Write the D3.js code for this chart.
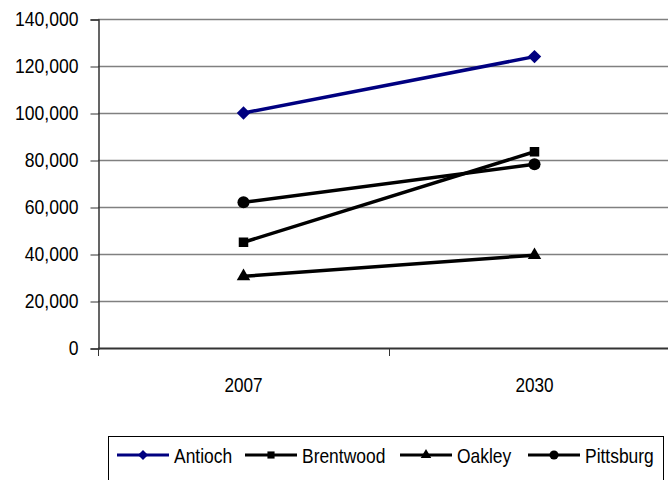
<!DOCTYPE html>
<html>
<head>
<meta charset="utf-8">
<script src="https://cdn.jsdelivr.net/npm/d3@7"></script>
<style>
  body { margin: 0; background: #fff; }
  text { font-family: "Liberation Sans", Arial, sans-serif; fill: #000; }
</style>
</head>
<body>
<svg id="chart"></svg>
<script>
var w = 668;
var h = 480;

var years = ["2007", "2030"];
var cities = ["Antioch", "Brentwood", "Oakley", "Pittsburg"];
var antioch = [100000, 124000];
var brentwood = [45000, 83500];
var oakley = [30500, 39500];
var pittsburg = [62000, 78200];
var yTicks = [0, 20000, 40000, 60000, 80000, 100000, 120000, 140000];

var series = [
  {name: cities[0], values: antioch, color: "#000080", symbol: d3.symbolDiamond2},
  {name: cities[1], values: brentwood, color: "#000", symbol: d3.symbolSquare2},
  {name: cities[2], values: oakley, color: "#000", symbol: d3.symbolTriangle2},
  {name: cities[3], values: pittsburg, color: "#000", symbol: d3.symbolCircle}
];

var svg = d3.select("#chart")
  .attr("width", w)
  .attr("height", h)

var plotLeft = 98, plotRight = 680, plotTop = 19, plotBottom = 348;

// squeeze glyphs to look like a narrow face
function narrow(sel, k) {
  sel.each(function() {
    var len = this.getComputedTextLength();
    d3.select(this).attr("textLength", len * k).attr("lengthAdjust", "spacingAndGlyphs")
  })
}

var x = d3.scalePoint()
  .domain(years)
  .range([plotLeft, plotRight])
  .padding(0.5)

var y = d3.scaleLinear()
  .domain([0, 140000])
  .range([plotBottom, plotTop])

// gridlines
svg.selectAll(".grid")
  .data(yTicks.slice(1))
  .enter()
  .append("line")
  .attr("class", "grid")
  .attr("x1", plotLeft)
  .attr("x2", w + 20)
  .attr("y1", function(d) { return y(d) + 0.5 })
  .attr("y2", function(d) { return y(d) + 0.5 })
  .attr("stroke", "#808080")
  .attr("stroke-width", 1.5)

// y axis
var yAxis = d3.axisLeft(y)
  .tickValues(yTicks)
  .tickFormat(d3.format(","))
  .tickSize(8)
  .tickPadding(12)

svg.append("g")
  .attr("transform", "translate(" + (plotLeft + 0.5) + ",0.5)")
  .call(yAxis)
  .call(function(g) {
    g.select(".domain").attr("stroke", "#333").attr("stroke-width", 1.5)
    g.selectAll(".tick line").attr("stroke", "#333")
    g.selectAll("text").attr("font-size", "19.5px").attr("font-family", null).attr("fill", "#000")
      .call(narrow, 0.9)
  })

// x axis: ticks at category boundaries
var step = x.step();
svg.append("line")
  .attr("x1", plotLeft).attr("x2", w + 20)
  .attr("y1", plotBottom + 0.5).attr("y2", plotBottom + 0.5)
  .attr("stroke", "#333").attr("stroke-width", 2)

svg.selectAll(".xtick")
  .data([0, 1, 2])
  .enter()
  .append("line")
  .attr("x1", function(d) { return plotLeft + d * step + 0.5 })
  .attr("x2", function(d) { return plotLeft + d * step + 0.5 })
  .attr("y1", plotBottom)
  .attr("y2", plotBottom + 8)
  .attr("stroke", "#333")

svg.selectAll(".xlabel")
  .data(years)
  .enter()
  .append("text")
  .attr("x", function(d) { return x(d) })
  .attr("y", 392)
  .attr("text-anchor", "middle")
  .attr("font-size", "19.5px")
  .text(function(d) { return d })
  .call(narrow, 0.88)

// lines
var line = d3.line()
  .x(function(d, i) { return x(years[i]) })
  .y(function(d) { return y(d) })

svg.selectAll(".series")
  .data(series)
  .enter()
  .append("path")
  .attr("d", function(d) { return line(d.values) })
  .attr("fill", "none")
  .attr("stroke", function(d) { return d.color })
  .attr("stroke-width", 3.5)

series.forEach(function(s) {
  svg.selectAll(null)
    .data(s.values)
    .enter()
    .append("path")
    .attr("transform", function(d, i) { return "translate(" + x(years[i]) + "," + y(d) + ")" })
    .attr("d", d3.symbol().type(s.symbol).size(s.symbol === d3.symbolTriangle2 ? 130 : 115))
    .attr("fill", s.color)
})

// legend
var legend = svg.append("g")

legend.append("rect")
  .attr("x", 108.5)
  .attr("y", 436.5)
  .attr("width", 555)
  .attr("height", 60)
  .attr("fill", "#fff")
  .attr("stroke", "#000")

var legendX = [117, 245, 400, 528];
var item = legend.selectAll(".item")
  .data(series)
  .enter()
  .append("g")
  .attr("transform", function(d, i) { return "translate(" + legendX[i] + ",455)" })

item.append("line")
  .attr("x1", 0).attr("x2", 52)
  .attr("stroke", function(d) { return d.color })
  .attr("stroke-width", 3)

item.append("path")
  .attr("transform", "translate(26,0)")
  .attr("d", function(d) { return d3.symbol().type(d.symbol).size(d.symbol === d3.symbolTriangle2 ? 80 : 65)() })
  .attr("fill", function(d) { return d.color })

item.append("text")
  .attr("x", 57)
  .attr("y", 7.5)
  .attr("font-size", "21px")
  .text(function(d) { return d.name })
  .call(narrow, 0.83)
</script>
</body>
</html>
